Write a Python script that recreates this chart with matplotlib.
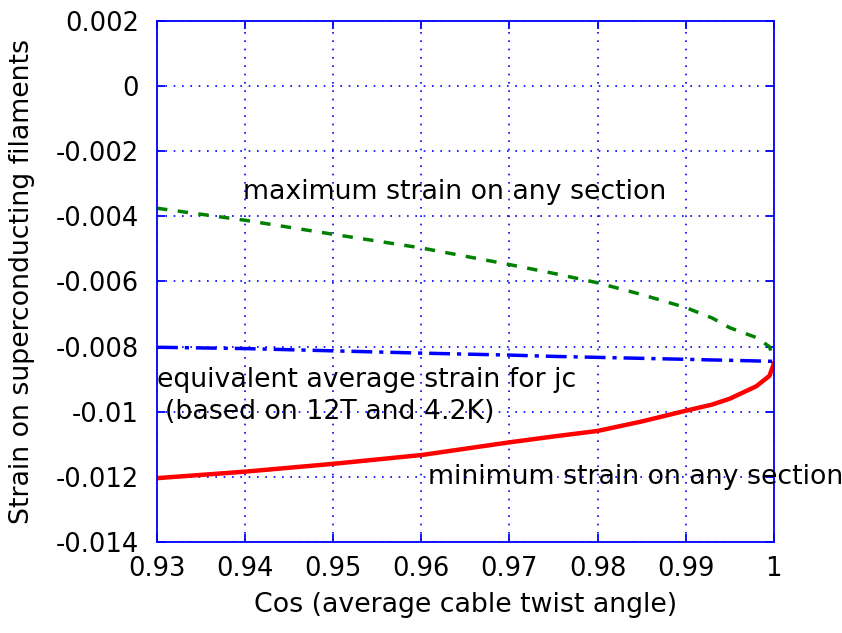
import matplotlib
matplotlib.use("Agg")
import matplotlib.pyplot as plt

plt.rcParams['font.family'] = ['DejaVu Sans']
plt.rcParams['axes.unicode_minus'] = False

# cos of average cable twist angle
cos_twist = [0.93, 0.94, 0.95, 0.96, 0.97, 0.975, 0.98, 0.985, 0.99, 0.993,
             0.995, 0.998, 0.9995, 1.0]
max_strain = [-0.00375, -0.00412, -0.00455, -0.00497, -0.00548, -0.00575,
              -0.00604, -0.0064, -0.0068, -0.00712, -0.00742, -0.00772,
              -0.0080, -0.00838]
avg_strain = [-0.00802, -0.00806, -0.00813, -0.0082, -0.00826, -0.0083,
              -0.00833, -0.00836, -0.00839, -0.00841, -0.00842, -0.00844,
              -0.00845, -0.00845]
min_strain = [-0.01204, -0.01184, -0.0116, -0.01133, -0.01094, -0.01076,
              -0.01059, -0.0103, -0.00997, -0.00978, -0.0096, -0.00922,
              -0.0089, -0.00853]

x_ticks = [0.93, 0.94, 0.95, 0.96, 0.97, 0.98, 0.99, 1.0]
x_tick_labels = ["0.93", "0.94", "0.95", "0.96", "0.97", "0.98", "0.99", "1"]
y_ticks = [0.002, 0, -0.002, -0.004, -0.006, -0.008, -0.01, -0.012, -0.014]
y_tick_labels = ["0.002", "0", "-0.002", "-0.004", "-0.006", "-0.008",
                 "-0.01", "-0.012", "-0.014"]

blue = "#0000ff"

fig = plt.figure(figsize=(8.42, 6.33), dpi=100)
ax = fig.add_axes([0.1865, 0.1438, 0.7325, 0.823])

ax.plot(cos_twist, max_strain, color="#008000", lw=2.5, ls=(0, (3, 3)))
ax.plot(cos_twist, avg_strain, color=blue, lw=2.5, ls=(0, (6, 2, 1.2, 2)))
ax.plot(cos_twist, min_strain, color="#ff0000", lw=3.2, ls="-")

ax.set_xlim(0.93, 1.0)
ax.set_ylim(-0.014, 0.002)
ax.set_xticks(x_ticks)
ax.set_xticklabels(x_tick_labels)
ax.set_yticks(y_ticks)
ax.set_yticklabels(y_tick_labels)

ax.grid(True, color=blue, ls=(0, (1, 4)), lw=1.2)
for s in ax.spines.values():
    s.set_color(blue)
    s.set_linewidth(1.3)
ax.tick_params(direction="in", length=6, width=1.3, color=blue,
               top=True, right=True, labelsize=18.5)
ax.tick_params(axis="y", pad=13)
ax.tick_params(axis="x", pad=10)

ax.set_xlabel("Cos (average cable twist angle)", fontsize=19.3, va="center")
ax.set_ylabel("Strain on superconducting filaments", fontsize=19.3, va="center")
ax.xaxis.set_label_coords(0.5, -0.121)
ax.yaxis.set_label_coords(-0.219, 0.5)

txt = dict(fontsize=19.3, va="center", ha="left")
ax.text(0.9398, -0.00324, "maximum strain on any section", **txt)
ax.text(0.93, -0.00903, "equivalent average strain for jc", **txt)
ax.text(0.9309, -0.01001, "(based on 12T and 4.2K)", **txt)
ax.text(0.9607, -0.0120, "minimum strain on any section", clip_on=False, **txt)

fig.savefig("out.png", dpi=100)
